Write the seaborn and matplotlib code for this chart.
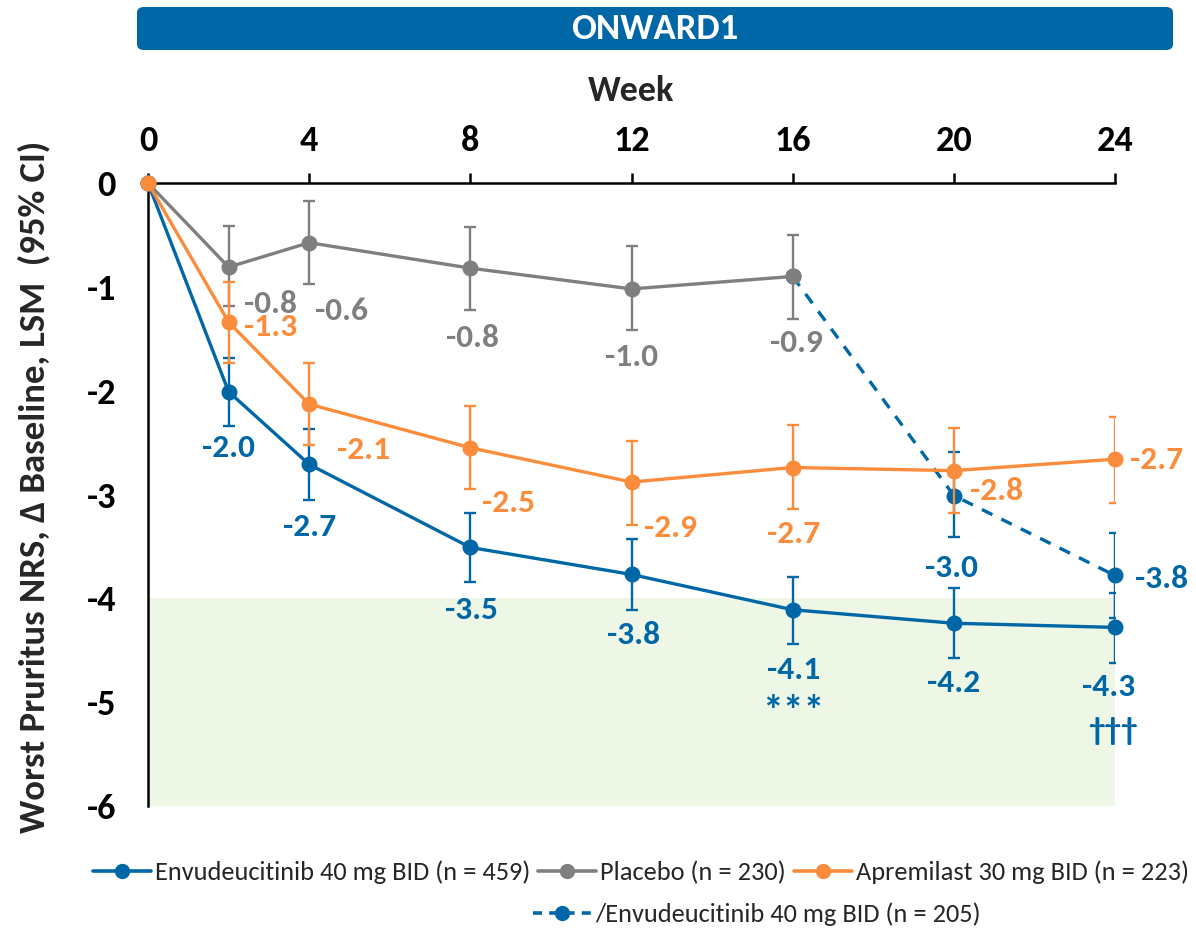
import numpy as np
import pandas as pd
import matplotlib
matplotlib.use("Agg")
import matplotlib.pyplot as plt
import seaborn as sns
from matplotlib.lines import Line2D
from matplotlib.patches import FancyBboxPatch

nan = np.nan

# ---------------- data ----------------
weeks = [0, 2, 4, 8, 12, 16, 20, 24]
tick_weeks = [0, 4, 8, 12, 16, 20, 24]

envu_lsm = [0, -2.01, -2.71, -3.51, -3.77, -4.11, -4.24, -4.28]
envu_lo = [nan, -2.34, -3.05, -3.84, -4.11, -4.44, -4.57, -4.62]
envu_hi = [nan, -1.69, -2.37, -3.18, -3.43, -3.79, -3.90, -3.95]
envu_labels = ["", "-2.0", "-2.7", "-3.5", "-3.8", "-4.1", "-4.2", "-4.3"]

placebo_weeks = [0, 2, 4, 8, 12, 16]
placebo_lsm = [0, -0.81, -0.575, -0.82, -1.02, -0.90]
placebo_lo = [nan, -1.18, -0.97, -1.22, -1.42, -1.31]
placebo_hi = [nan, -0.41, -0.17, -0.42, -0.61, -0.50]
placebo_labels = ["", "-0.8", "-0.6", "-0.8", "-1.0", "-0.9"]

apre_lsm = [0, -1.34, -2.13, -2.55, -2.88, -2.74, -2.77, -2.66]
apre_lo = [nan, -1.73, -2.52, -2.95, -3.29, -3.14, -3.18, -3.08]
apre_hi = [nan, -0.95, -1.73, -2.15, -2.48, -2.33, -2.36, -2.25]
apre_labels = ["", "-1.3", "-2.1", "-2.5", "-2.9", "-2.7", "-2.8", "-2.7"]

switch_weeks = [16, 20, 24]
switch_lsm = [-0.90, -3.01, -3.78]
switch_lo = [nan, -3.41, -4.19]
switch_hi = [nan, -2.59, -3.37]
switch_labels = ["", "-3.0", "-3.8"]

sig_weeks = [16, 24]
sig_marks = ["***", "†††"]

series_names = ["Envudeucitinib 40 mg BID (n = 459)", "Placebo (n = 230)",
                "Apremilast 30 mg BID (n = 223)", "/Envudeucitinib 40 mg BID (n = 205)"]

# ---------------- styling ----------------
BLUE = "#0067A7"
GREY = "#7F7F7F"
ORANGE = "#FB8C3C"
GREEN = "#EEF6E6"

# label offsets in pixels (dx, dy) from each point
envu_off = [None, (0, -56), (0, -63), (1, -63), (2, -61), (1, -60), (0, -60), (-6, -60)]
placebo_off = [None, (42, -37), (32, -68), (2, -70), (0, -68), (4, -67)]
apre_off = [None, (42, -5), (54, -46), (38, -55), (39, -46), (1, -66), (43, -20), (42, -1)]
switch_off = [None, (-2, -72), (47, -4)]
sig_off = [(1, -104), (-2, -104)]

sns.set_theme(style="white")
plt.rcParams["font.family"] = ["Carlito", "DejaVu Sans"]
plt.rcParams["axes.unicode_minus"] = False

fig = plt.figure(figsize=(11.96, 9.30), dpi=100)
ax = fig.add_axes([148 / 1196, 1 - 806 / 930, (1115 - 148) / 1196, (806 - 183) / 930])

ax.axhspan(-6, -4, color=GREEN, zorder=0, lw=0)

main = pd.DataFrame({"week": weeks, "envu": envu_lsm, "apre": apre_lsm})
plac = pd.DataFrame({"week": placebo_weeks, "lsm": placebo_lsm})
swit = pd.DataFrame({"week": switch_weeks, "lsm": switch_lsm})

line_kw = dict(lw=2.4, marker="o", markersize=11.5, markeredgewidth=0, clip_on=False)

def draw_errors(x, y, lo, hi, color):
    y = np.array(y, dtype=float)
    lo = np.array(lo, dtype=float)
    hi = np.array(hi, dtype=float)
    keep = ~np.isnan(lo)
    yerr = [y[keep] - lo[keep], hi[keep] - y[keep]]
    ax.errorbar(np.array(x)[keep], y[keep], yerr=yerr, fmt="none", ecolor=color,
                elinewidth=1.7, capsize=4.5, capthick=1.7, zorder=3)

# dashed switch series (drawn under placebo marker)
sns.lineplot(data=swit, x="week", y="lsm", ax=ax, color=BLUE, zorder=2, **line_kw)
ax.lines[-1].set_dashes((3.5, 3))
draw_errors(switch_weeks, switch_lsm, switch_lo, switch_hi, BLUE)

draw_errors(placebo_weeks, placebo_lsm, placebo_lo, placebo_hi, GREY)
sns.lineplot(data=plac, x="week", y="lsm", ax=ax, color=GREY, zorder=4, **line_kw)

draw_errors(weeks, envu_lsm, envu_lo, envu_hi, BLUE)
sns.lineplot(data=main, x="week", y="envu", ax=ax, color=BLUE, zorder=4, **line_kw)

draw_errors(weeks, apre_lsm, apre_lo, apre_hi, ORANGE)
sns.lineplot(data=main, x="week", y="apre", ax=ax, color=ORANGE, zorder=5, **line_kw)

# value labels
lab_kw = dict(textcoords="offset pixels", ha="center", va="center", fontsize=24,
              fontweight="bold", zorder=6, annotation_clip=False)
for xs, ys, labs, offs, col in [(weeks, envu_lsm, envu_labels, envu_off, BLUE),
                                (placebo_weeks, placebo_lsm, placebo_labels, placebo_off, GREY),
                                (weeks, apre_lsm, apre_labels, apre_off, ORANGE),
                                (switch_weeks, switch_lsm, switch_labels, switch_off, BLUE)]:
    for x, y, t, o in zip(xs, ys, labs, offs):
        if t:
            ax.annotate(t, (x, y), xytext=o, color=col, **lab_kw)

for w, m, o, fs in zip(sig_weeks, sig_marks, sig_off, [30, 24]):
    y = envu_lsm[weeks.index(w)]
    ax.annotate(m, (w, y), xytext=o, color=BLUE, **dict(lab_kw, fontsize=fs))

# axes
ax.set_xlim(0, 24)
ax.set_ylim(-6, 0)
ax.set_xticks(tick_weeks)
ax.set_xticklabels([str(t) for t in tick_weeks])
ax.set_yticks(range(0, -7, -1))
ax.set_yticklabels([str(t) for t in range(0, -7, -1)])
ax.xaxis.tick_top()
ax.xaxis.set_label_position("top")
ax.tick_params(axis="x", direction="out", length=7, width=1.8, pad=12,
               labelsize=26, colors="black")
ax.tick_params(axis="y", direction="out", length=9, width=1.8, pad=14,
               labelsize=26, colors="black")
for lbl in ax.get_xticklabels() + ax.get_yticklabels():
    lbl.set_fontweight("bold")
ax.set_xlabel("Week", fontsize=26, fontweight="bold", labelpad=17)
ax.set_ylabel("Worst Pruritus NRS, Δ Baseline, LSM  (95% CI)", fontsize=26.5,
              fontweight="bold", va="center")
ax.yaxis.set_label_coords(-0.118, 0.512)
for side in ["right", "bottom"]:
    ax.spines[side].set_visible(False)
for side in ["left", "top"]:
    ax.spines[side].set_color("black")
    ax.spines[side].set_linewidth(1.8)
ax.set_facecolor("none")

# title bar
fig.patches.append(FancyBboxPatch((137 / 1196, 1 - 50 / 930), (1173 - 137) / 1196, 43 / 930,
                                  boxstyle="round,pad=0,rounding_size=0.006",
                                  transform=fig.transFigure, facecolor=BLUE,
                                  edgecolor="none", zorder=0))
fig.text(655 / 1196, 1 - 29 / 930, "ONWARD1", color="white", fontsize=26.5,
         fontweight="bold", ha="center", va="center")

# legend
def handle(color, dashed=False):
    h = Line2D([0], [0], color=color, lw=2.6, marker="o", markersize=11, markeredgewidth=0)
    if dashed:
        h.set_dashes((2.5, 2))
    return h

leg_kw = dict(frameon=False, fontsize=19, handlelength=2.2, handletextpad=0.15,
              columnspacing=0.3, borderpad=0, borderaxespad=0)
fig.legend([handle(BLUE), handle(GREY), handle(ORANGE)], series_names[:3],
           loc="center", bbox_to_anchor=(641 / 1196, 1 - 872 / 930), ncol=3, **leg_kw)
fig.legend([handle(BLUE, True)], series_names[3:], loc="center",
           bbox_to_anchor=(757 / 1196, 1 - 914 / 930), **leg_kw)

fig.savefig("out.png", dpi=100, facecolor="white")
